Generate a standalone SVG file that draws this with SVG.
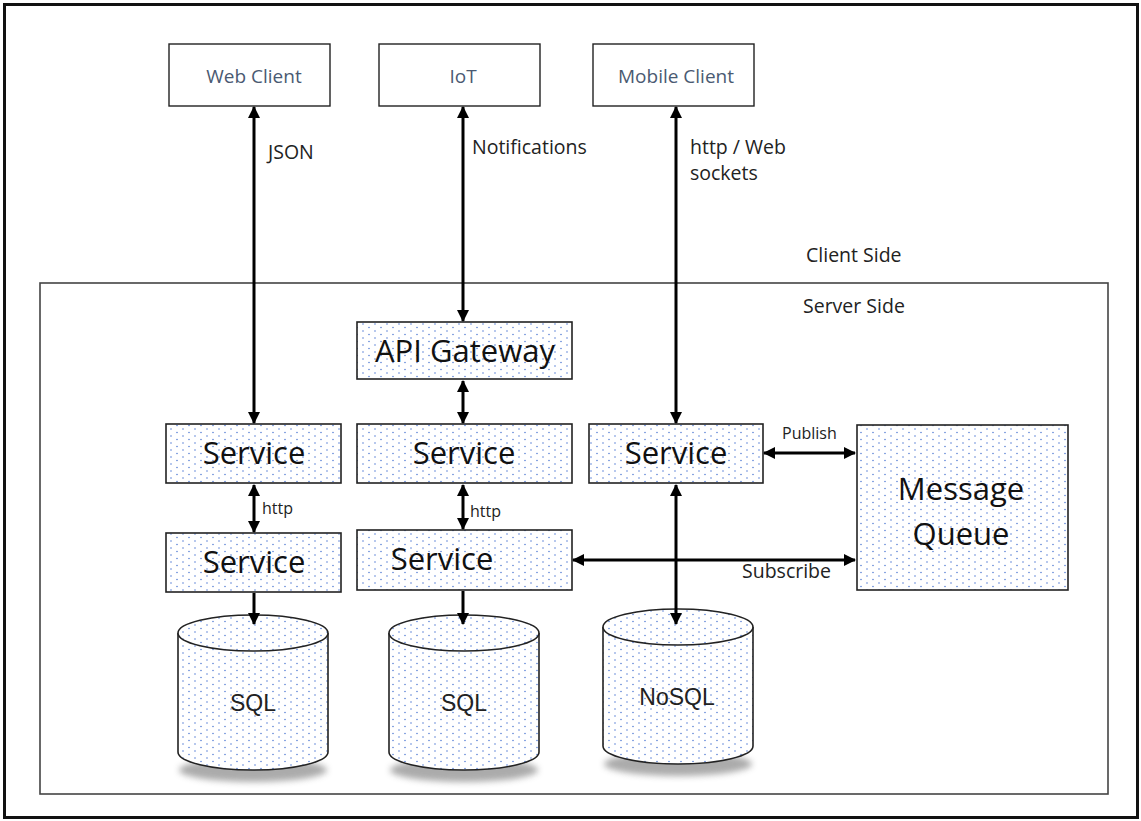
<svg xmlns="http://www.w3.org/2000/svg" width="1141" height="821" viewBox="0 0 1141 821">
<style>
.frame{fill:none;stroke:#111;stroke-width:3}
.zone{fill:none;stroke:#444;stroke-width:1.6}
.client{fill:#fff;stroke:#222;stroke-width:1.4}
.dot{fill:url(#dots);stroke:#222;stroke-width:1.6}
.ctext{font-family:"Open Sans",sans-serif;font-size:19px;fill:#4a5a72;text-anchor:middle}
.ntext{font-family:"Open Sans",sans-serif;font-size:31px;fill:#111;text-anchor:middle}
.dbtext{font-family:"Liberation Sans",Arial,sans-serif;font-size:23px;fill:#222;text-anchor:middle}
.lbl{font-family:"Open Sans",sans-serif;font-size:19.5px;fill:#222}
.sm{font-family:"Open Sans",sans-serif;font-size:16px;fill:#222}
.conn{stroke:#000;stroke-width:3;fill:none}
</style>
<defs>
<pattern id="dots" width="12" height="7" patternUnits="userSpaceOnUse">
<rect width="12" height="7" fill="#fff"/>
<circle cx="3" cy="2" r="0.8" fill="#5b82d6"/>
<circle cx="9" cy="5.5" r="0.8" fill="#5b82d6"/>
</pattern>
<marker id="ah" viewBox="0 0 12 12" refX="11" refY="6" markerWidth="12" markerHeight="12" markerUnits="userSpaceOnUse" orient="auto-start-reverse">
<path d="M0,0 L12,6 L0,12 z" fill="#000"/>
</marker>
<filter id="sh" x="-20%" y="-50%" width="140%" height="200%">
<feGaussianBlur stdDeviation="3"/>
</filter>
</defs>
<rect class="frame" x="4.5" y="4.5" width="1133" height="813"/>
<rect class="zone" x="40" y="283" width="1068" height="511"/>
<text class="lbl" x="806" y="262">Client Side</text>
<text class="lbl" x="803" y="313">Server Side</text>

<g id="web-client"><rect class="client" x="169" y="44" width="161" height="62"/><text class="ctext" x="254" y="83">Web Client</text></g>
<g id="iot"><rect class="client" x="379" y="44" width="161" height="62"/><text class="ctext" x="463" y="83">IoT</text></g>
<g id="mobile-client"><rect class="client" x="593" y="44" width="161" height="62"/><text class="ctext" x="676" y="83">Mobile Client</text></g>

<g id="api-gateway"><rect class="dot" x="357" y="322" width="215" height="57"/><text class="ntext" x="465" y="362">API Gateway</text></g>
<g id="service-1"><rect class="dot" x="166" y="424" width="175" height="59"/><text class="ntext" x="254" y="464">Service</text></g>
<g id="service-2"><rect class="dot" x="357" y="424" width="215" height="59"/><text class="ntext" x="464" y="464">Service</text></g>
<g id="service-3"><rect class="dot" x="589" y="424" width="174" height="59"/><text class="ntext" x="676" y="464">Service</text></g>
<g id="service-4"><rect class="dot" x="166" y="533" width="175" height="59"/><text class="ntext" x="254" y="573">Service</text></g>
<g id="service-5"><rect class="dot" x="357" y="530" width="215" height="60"/><text class="ntext" x="442" y="570">Service</text></g>
<g id="message-queue"><rect class="dot" x="857" y="425" width="211" height="165"/><text class="ntext" x="961" y="500">Message</text><text class="ntext" x="961" y="545">Queue</text></g>

<g id="sql-1">
<ellipse cx="253" cy="770" rx="74" ry="12" fill="#888" filter="url(#sh)" opacity="0.7"/>
<path class="dot" d="M178,633 L178,752 A75,18 0 0 0 328,752 L328,633"/>
<ellipse class="dot" cx="253" cy="633" rx="75" ry="18"/>
<text class="dbtext" x="253" y="711">SQL</text>
</g>
<g id="sql-2">
<ellipse cx="464" cy="770" rx="74" ry="12" fill="#888" filter="url(#sh)" opacity="0.7"/>
<path class="dot" d="M389,633 L389,752 A75,18 0 0 0 539,752 L539,633"/>
<ellipse class="dot" cx="464" cy="633" rx="75" ry="18"/>
<text class="dbtext" x="464" y="711">SQL</text>
</g>
<g id="nosql">
<ellipse cx="678" cy="764" rx="74" ry="12" fill="#888" filter="url(#sh)" opacity="0.7"/>
<path class="dot" d="M603,627 L603,746 A75,18 0 0 0 753,746 L753,627"/>
<ellipse class="dot" cx="678" cy="627" rx="75" ry="18"/>
<text class="dbtext" x="677" y="705">NoSQL</text>
</g>

<g id="connectors">
<line class="conn" x1="254" y1="107" x2="254" y2="423" marker-start="url(#ah)" marker-end="url(#ah)"/>
<line class="conn" x1="463" y1="107" x2="463" y2="321" marker-start="url(#ah)" marker-end="url(#ah)"/>
<line class="conn" x1="676" y1="107" x2="676" y2="423" marker-start="url(#ah)" marker-end="url(#ah)"/>
<line class="conn" x1="463" y1="381" x2="463" y2="423" marker-start="url(#ah)" marker-end="url(#ah)"/>
<line class="conn" x1="254" y1="485" x2="254" y2="532" marker-start="url(#ah)" marker-end="url(#ah)"/>
<line class="conn" x1="463" y1="485" x2="463" y2="529" marker-start="url(#ah)" marker-end="url(#ah)"/>
<line class="conn" x1="254" y1="593" x2="254" y2="624" marker-end="url(#ah)"/>
<line class="conn" x1="463" y1="591" x2="463" y2="624" marker-end="url(#ah)"/>
<line class="conn" x1="676" y1="485" x2="676" y2="624" marker-start="url(#ah)" marker-end="url(#ah)"/>
<line class="conn" x1="764" y1="453" x2="855" y2="453" marker-start="url(#ah)" marker-end="url(#ah)"/>
<line class="conn" x1="573" y1="560" x2="855" y2="560" marker-start="url(#ah)" marker-end="url(#ah)"/>
<text class="lbl" x="268" y="159">JSON</text>
<text class="lbl" x="472" y="154">Notifications</text>
<text class="lbl" x="690" y="154">http / Web</text>
<text class="lbl" x="690" y="180">sockets</text>
<text class="sm" x="262" y="514">http</text>
<text class="sm" x="470" y="517">http</text>
<text class="sm" x="782" y="439">Publish</text>
<text class="lbl" x="742" y="578">Subscribe</text>
</g>
</svg>
